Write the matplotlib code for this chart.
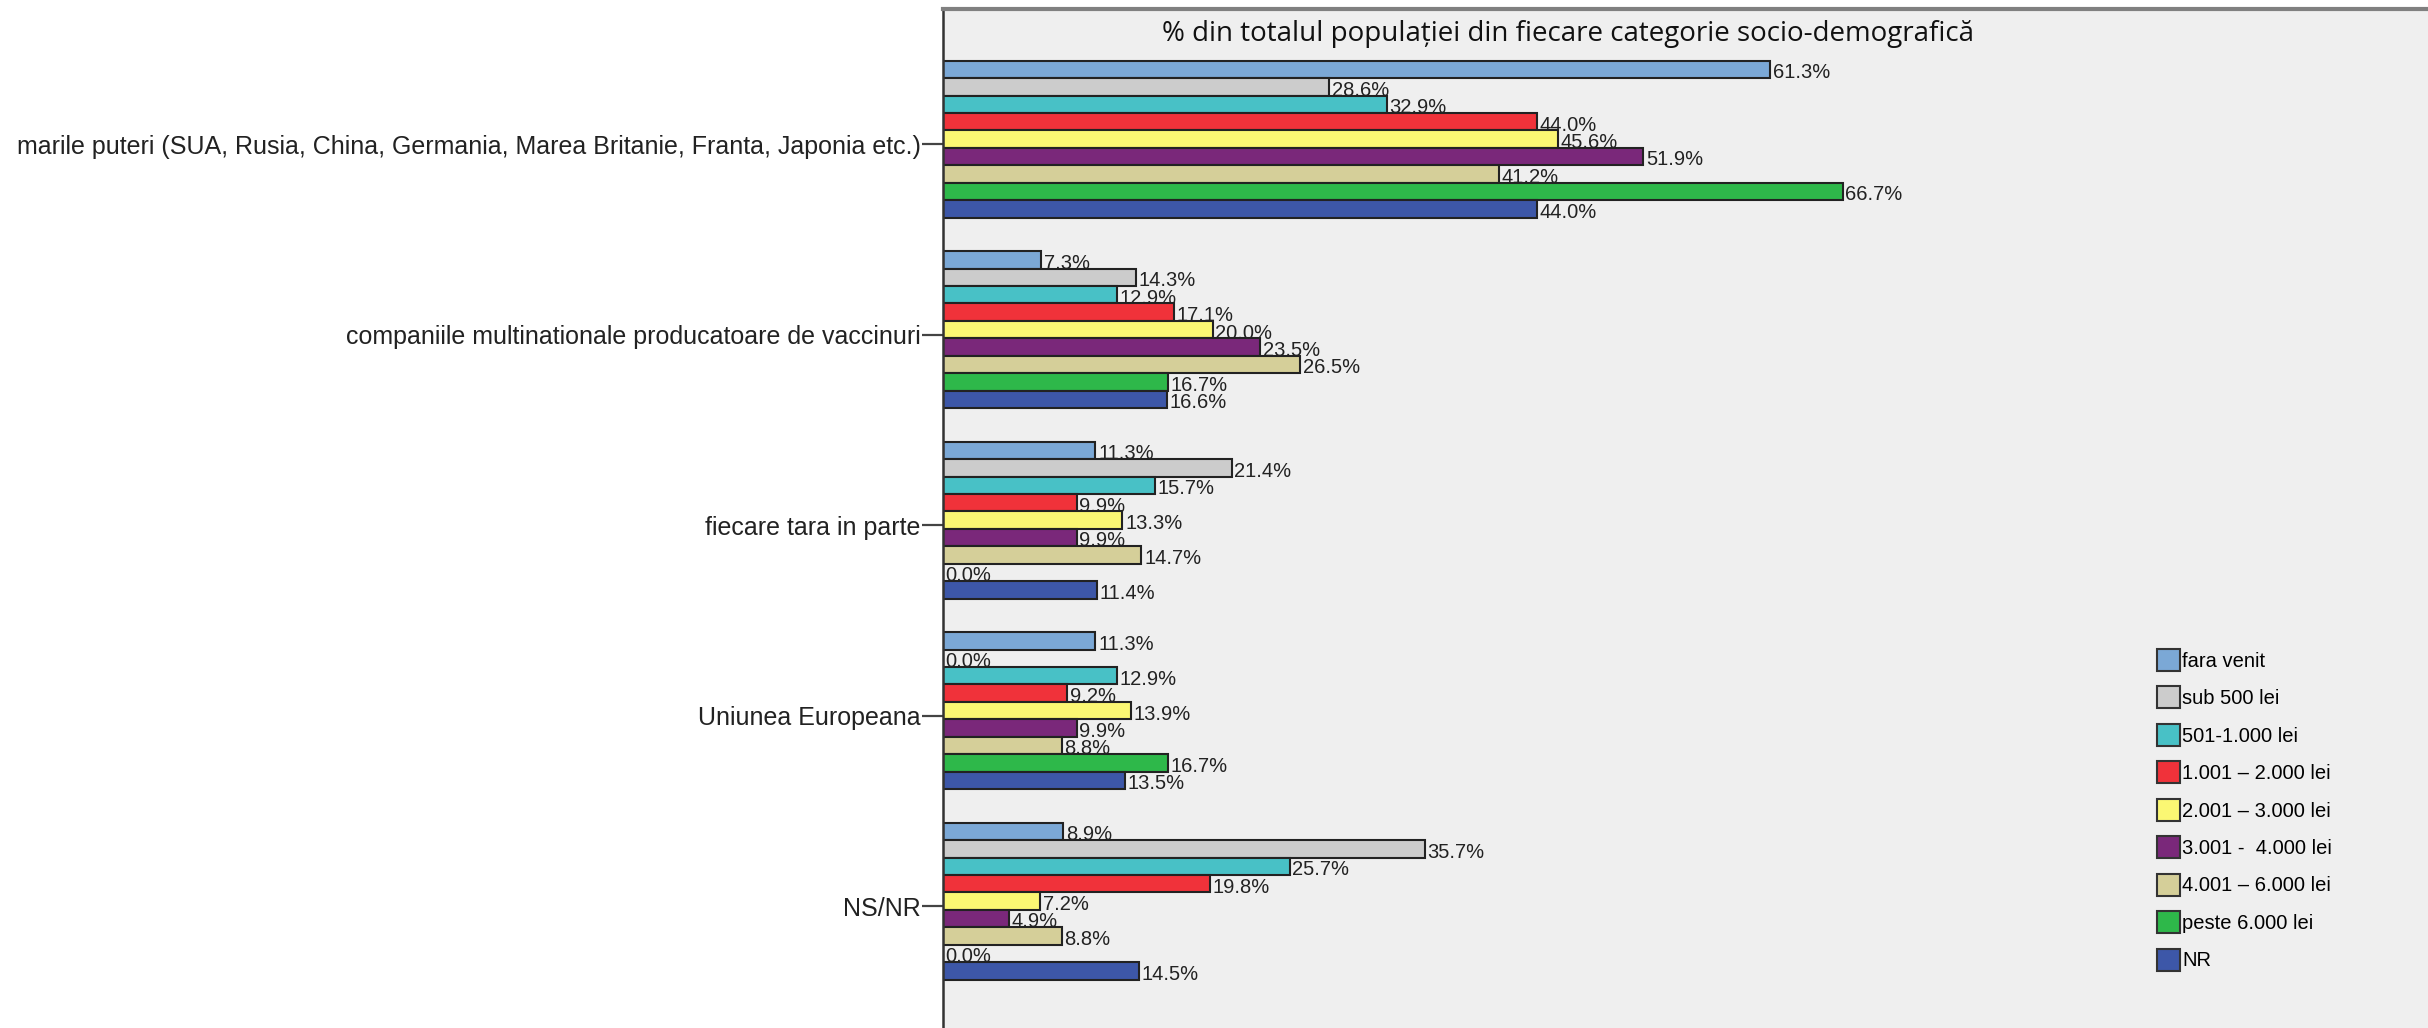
import numpy as np
import matplotlib
matplotlib.use("Agg")
import matplotlib.pyplot as plt
from matplotlib.patches import Patch

plt.rcParams['font.family'] = ['Liberation Sans', 'DejaVu Sans']

categories = [
    "marile puteri (SUA, Rusia, China, Germania, Marea Britanie, Franta, Japonia etc.)",
    "companiile multinationale producatoare de vaccinuri",
    "fiecare tara in parte",
    "Uniunea Europeana",
    "NS/NR",
]

series_names = ["fara venit", "sub 500 lei", "501-1.000 lei", "1.001 \u2013 2.000 lei",
                "2.001 \u2013 3.000 lei", "3.001 -  4.000 lei", "4.001 \u2013 6.000 lei",
                "peste 6.000 lei", "NR"]

fara_venit = [61.3, 7.3, 11.3, 11.3, 8.9]
sub_500 = [28.6, 14.3, 21.4, 0.0, 35.7]
v501_1000 = [32.9, 12.9, 15.7, 12.9, 25.7]
v1001_2000 = [44.0, 17.1, 9.9, 9.2, 19.8]
v2001_3000 = [45.6, 20.0, 13.3, 13.9, 7.2]
v3001_4000 = [51.9, 23.5, 9.9, 9.9, 4.9]
v4001_6000 = [41.2, 26.5, 14.7, 8.8, 8.8]
peste_6000 = [66.7, 16.7, 0.0, 16.7, 0.0]
nr = [44.0, 16.6, 11.4, 13.5, 14.5]

series = [fara_venit, sub_500, v501_1000, v1001_2000, v2001_3000,
          v3001_4000, v4001_6000, peste_6000, nr]

colors = ["#7BA8D6", "#CCCCCC", "#48C1C6", "#F0323A", "#FBF773",
          "#7A287A", "#D5CF99", "#2EB84A", "#3D57A8"]

title = "% din totalul populației din fiecare categorie socio-demografică"

W, H = 2428, 1028
fig = plt.figure(figsize=(W / 100, H / 100), dpi=100)
fig.patch.set_facecolor("white")

left_px, top_px = 943, 9
ax = fig.add_axes([left_px / W, 0, 1 - left_px / W, 1 - top_px / H])
ax.set_facecolor("#EFEFEF")

y = np.arange(len(categories))
bar_h = 0.0915
n = len(series)
for i, (vals, col) in enumerate(zip(series, colors)):
    # bars sit a little above the tick in the original
    pos = y - 0.026 - (n / 2 - 0.5 - i) * bar_h
    ax.barh(pos, vals, height=bar_h, color=col, edgecolor="#222222", linewidth=1.5)
    for p, v in zip(pos, vals):
        ax.text(v + 0.2, p + 0.018, f"{v:.1f}%", ha="left", va="center",
                fontsize=14.5, color="#222222")

ax.set_xlim(0, (W - left_px) / 13.49)
ax.set_ylim(4.64, -0.709)

ax.set_yticks(y)
ax.set_yticklabels(categories, fontsize=18, color="#222222")
ax.tick_params(axis="y", length=15, width=1.6, color="#444444", pad=1)
ax.set_xticks([])

for s in ["right", "bottom"]:
    ax.spines[s].set_visible(False)
ax.spines["left"].set_color("#333333")
ax.spines["left"].set_linewidth(1.8)
ax.spines["top"].set_color("#808080")
ax.spines["top"].set_linewidth(3)

fig.text(1568 / W, 1 - 34 / H, title, ha="center", va="center",
         fontsize=20, family=["Open Sans", "DejaVu Sans"], color="#111111")

handles = [Patch(facecolor=c, edgecolor="#333333", linewidth=1.5) for c in colors]
fig.legend(handles, series_names, loc="upper left",
           bbox_to_anchor=(2157 / W, 1 - 649 / H), frameon=False,
           fontsize=14.5, handlelength=1.15, handleheight=1.3, handletextpad=0.1,
           labelspacing=0.77, borderpad=0, borderaxespad=0)

fig.savefig("out.png", dpi=100)
